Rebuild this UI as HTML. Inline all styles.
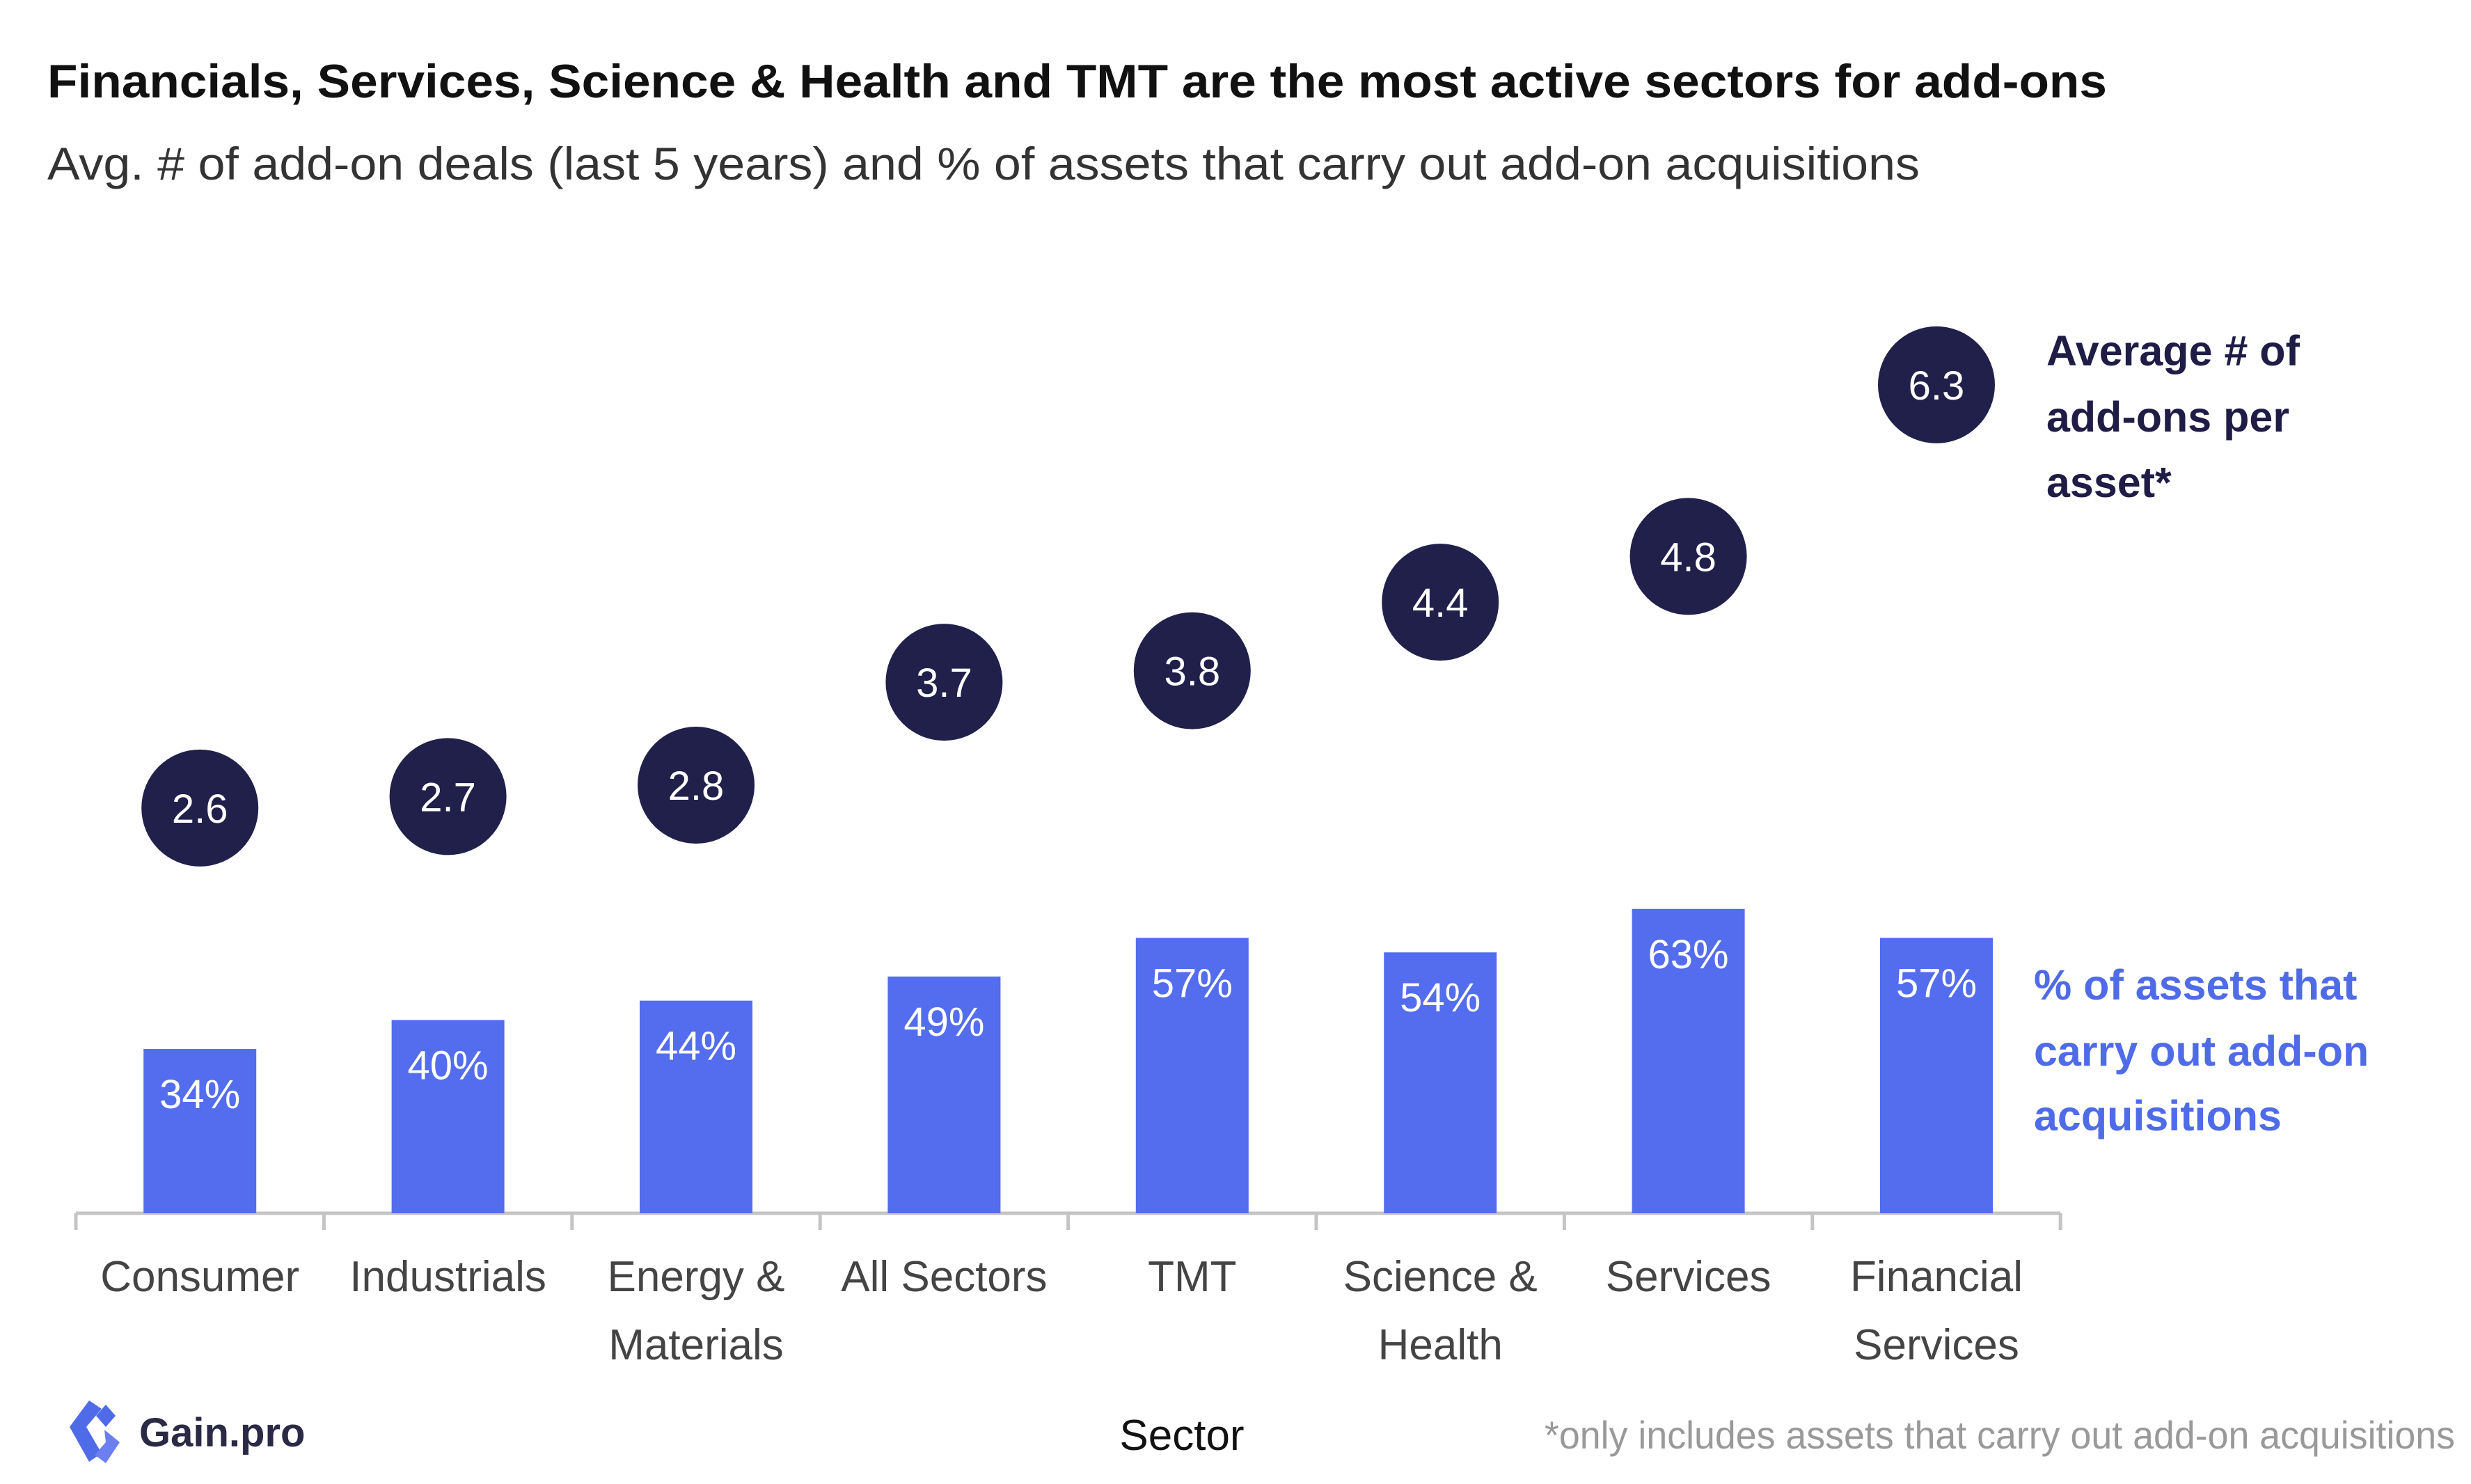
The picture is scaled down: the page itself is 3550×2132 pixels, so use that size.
<!DOCTYPE html>
<html><head><meta charset="utf-8"><style>
body{margin:0;background:#fff;}
svg text{font-family:"Liberation Sans",sans-serif;}
</style></head><body>
<svg width="3550" height="2127" viewBox="0 0 3550 2127" xmlns="http://www.w3.org/2000/svg">
<text x="68" y="140" font-size="68" font-weight="bold" fill="#111" textLength="2959" lengthAdjust="spacingAndGlyphs">Financials, Services, Science &amp; Health and TMT are the most active sectors for add-ons</text>
<text x="68" y="258" font-size="66" fill="#333" textLength="2690" lengthAdjust="spacingAndGlyphs">Avg. # of add-on deals (last 5 years) and % of assets that carry out add-on acquisitions</text>
<g id="plot"></g>
<g font-size="61" font-weight="bold" fill="#1f1d45">
<text x="2940" y="525">Average # of</text>
<text x="2940" y="620">add-ons per</text>
<text x="2940" y="714">asset*</text>
</g>
<g font-size="61" font-weight="bold" fill="#506be8">
<text x="2922" y="1436">% of assets that</text>
<text x="2922" y="1531">carry out add-on</text>
<text x="2922" y="1624">acquisitions</text>
</g>
<text x="1698" y="2083" font-size="62" fill="#111" text-anchor="middle">Sector</text>
<text x="2219" y="2081" font-size="56" fill="#999" textLength="1308" lengthAdjust="spacingAndGlyphs">*only includes assets that carry out add-on acquisitions</text>
<g>
<path d="M128 2012 L100 2050 L128 2100 L146 2088 L124 2050 L146 2024 Z" fill="#506be8"/>
<path d="M152 2018 L166 2034 L152 2050 L138 2034 Z" fill="#506be8"/>
<path d="M150 2054 L172 2072 L152 2102 L136 2090 L152 2072 Z" fill="#6b7ff0"/>
<text x="200" y="2078" font-size="58" font-weight="bold" fill="#2a2a45">Gain.pro</text>
</g>
</svg>
<script>
const categories=["Consumer","Industrials","Energy & Materials","All Sectors","TMT","Science & Health","Services","Financial Services"];
const labelLine1=["Consumer","Industrials","Energy &","All Sectors","TMT","Science &","Services","Financial"];
const labelLine2=["","","Materials","","","Health","","Services"];
const pctValues=[34,40,44,49,57,54,63,57];
const avgValues=[2.6,2.7,2.8,3.7,3.8,4.4,4.8,6.3];
const NS="http://www.w3.org/2000/svg";
const plot=document.getElementById("plot");
const axisY=1743, x0=109, step=356.4, barW=162;
const xC=i=>x0+step*(i+0.5);
const yPct=v=>axisY-6.94*v;
const yAvg=v=>1588-164.3*v;
function mk(tag,attrs){const e=document.createElementNS(NS,tag);for(const k in attrs)e.setAttribute(k,attrs[k]);plot.appendChild(e);return e;}
const ax=mk("line",{x1:x0,x2:x0+step*8,y1:axisY,y2:axisY,stroke:"#c4c4c4","stroke-width":5});


for(let i=0;i<=8;i++){const t=mk("line",{x1:x0+step*i,x2:x0+step*i,y1:axisY,y2:axisY+24,stroke:"#c4c4c4","stroke-width":5});

}
categories.forEach((c,i)=>{
const cx=xC(i);
const b=mk("rect",{x:cx-barW/2,y:yPct(pctValues[i]),width:barW,height:axisY-yPct(pctValues[i]),fill:"#536dee"});


const bl=mk("text",{x:cx,y:yPct(pctValues[i])+85,"font-size":58,fill:"#fff","text-anchor":"middle"});
bl.textContent=pctValues[i]+"%";


const cy=yAvg(avgValues[i]);
const ci=mk("circle",{cx:cx,cy:cy,r:84,fill:"#20204a"});


const ct=mk("text",{x:cx,y:cy+21,"font-size":58,fill:"#fff","text-anchor":"middle"});
ct.textContent=avgValues[i].toFixed(1);


const l1=mk("text",{x:cx,y:1855,"font-size":62,fill:"#444","text-anchor":"middle"});
l1.textContent=labelLine1[i];


if(labelLine2[i]){const l2=mk("text",{x:cx,y:1953,"font-size":62,fill:"#444","text-anchor":"middle"});
l2.textContent=labelLine2[i];

}
});
</script>
</body></html>
